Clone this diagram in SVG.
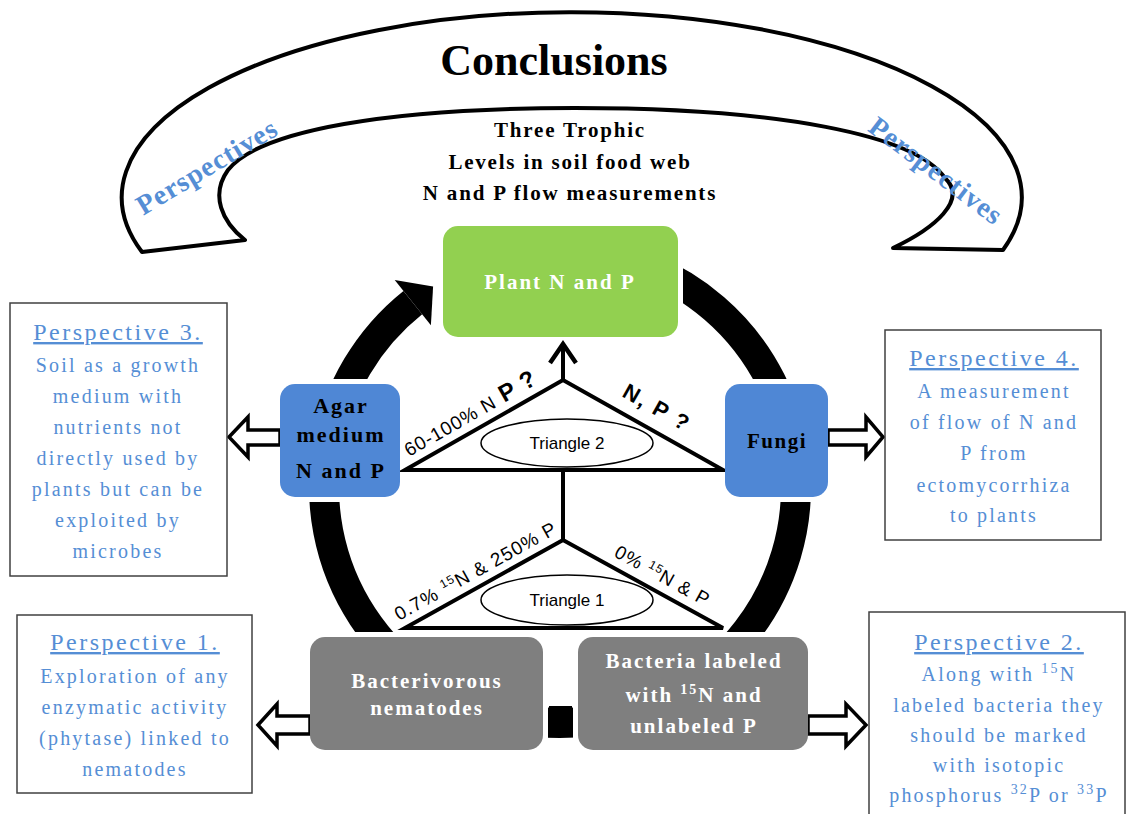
<svg xmlns="http://www.w3.org/2000/svg" width="1126" height="814" viewBox="0 0 1126 814">
<style>
.bt{font-family:'Liberation Serif','Times New Roman',serif;font-weight:bold;text-anchor:middle}
.pt{font-family:'Liberation Serif','Times New Roman',serif;font-size:24px;fill:#558ed5;text-anchor:middle;text-decoration:underline;letter-spacing:2.5px}
.pb{font-family:'Liberation Serif','Times New Roman',serif;font-size:20px;fill:#558ed5;text-anchor:middle;letter-spacing:2.2px}
.pbox{fill:#fff;stroke:#404040;stroke-width:1.5}
.hollow{fill:#fff;stroke:#000;stroke-width:3.5;stroke-linejoin:miter}
.ring{fill:none;stroke:#000;stroke-width:30}
.tri{fill:none;stroke:#000;stroke-width:4;stroke-linejoin:miter}
.ell{fill:#fff;stroke:#000;stroke-width:1.5}
.lbl{font-family:'Liberation Sans',Arial,sans-serif;fill:#000}
.blue{fill:#4f87d5}
.gray{fill:#7f7f7f}
</style>
<defs>
<mask id="gaps" maskUnits="userSpaceOnUse" x="0" y="0" width="1126" height="814">
<rect x="0" y="0" width="1126" height="814" fill="#fff"/>
<rect x="438" y="221" width="245" height="121" fill="#000"/>
<rect x="275" y="379" width="130" height="123" fill="#000"/>
<rect x="720" y="379" width="113" height="123" fill="#000"/>
<rect x="305" y="632" width="243" height="123" fill="#000"/>
<rect x="573" y="632" width="240" height="123" fill="#000"/>
</mask>
</defs>
<rect width="1126" height="814" fill="#fff"/>

<g id="arch">
<path d="M142,252 A450,185 0 1 1 1003,250 L893,248 C935,228 968,200 945,178 C915,135 780,108 575,108 C390,108 260,130 228,170 C210,195 222,222 245,240 Z" fill="#fff" stroke="#000" stroke-width="4" stroke-linejoin="round"/>
<text class="bt" x="554" y="75" font-size="44">Conclusions</text>
<text class="bt" transform="translate(207,167) rotate(-31)" y="9" font-size="28" fill="#558ed5" letter-spacing="1">Perspectives</text>
<text class="bt" transform="translate(936,171) rotate(37)" y="9" font-size="28" fill="#558ed5" letter-spacing="1">Perspectives</text>
<text class="bt" x="570" y="137" font-size="21" letter-spacing="1.8">Three Trophic</text>
<text class="bt" x="570" y="169" font-size="21" letter-spacing="1.8">Levels in soil food web</text>
<text class="bt" x="570" y="200" font-size="21" letter-spacing="1.8">N and P flow measurements</text>
</g>

<g id="connectors">
<g mask="url(#gaps)">
<path class="ring" d="M327.6,446 A236,236 0 0 1 412.8,302.6"/>
<path class="ring" d="M640.7,265.2 A236,236 0 1 1 327.6,446"/>
</g>
<polygon points="394.7,279.9 433.1,286.4 430.9,325.3" fill="#000"/>
<polygon class="tri" points="405,470 563,380 723,470"/>
<polygon class="tri" points="405,628 563,540 723,628"/>
<line x1="563" y1="380" x2="563" y2="345" stroke="#000" stroke-width="4"/>
<polyline points="550,363 563,344 576,363" fill="none" stroke="#000" stroke-width="4.5"/>
<line x1="563" y1="470" x2="563" y2="540" stroke="#000" stroke-width="4"/>
<polygon class="hollow" points="229,437 248,417 248,430 280,430 280,445 248,445 248,457"/>
<polygon class="hollow" points="828,430 866,430 866,417 883,437 866,457 866,445 828,445"/>
<polygon class="hollow" points="258,725 277,704 277,716 310,716 310,734 277,734 277,746"/>
<polygon class="hollow" points="808,716 846,716 846,704 866,725 846,746 846,734 808,734"/>
<rect x="549" y="706" width="23" height="31" fill="#000"/>
<text class="lbl" transform="translate(409,457) rotate(-29.7)" font-size="19" letter-spacing="0.8">60-100% N<tspan font-size="24" font-weight="bold"> P ?</tspan></text>
<text class="lbl" transform="translate(621,396) rotate(29.4)" font-size="22" font-weight="bold" letter-spacing="2">N, P ?</text>
<text class="lbl" transform="translate(399,621) rotate(-29.1)" font-size="19" letter-spacing="1">0.7% <tspan dy="-7" font-size="12">15</tspan><tspan dy="7">N &amp; 250% P</tspan></text>
<text class="lbl" transform="translate(613,556) rotate(28.8)" font-size="19" letter-spacing="1">0% <tspan dy="-7" font-size="12">15</tspan><tspan dy="7">N &amp; P</tspan></text>
</g>

<g id="triangle2">
<ellipse class="ell" cx="567" cy="443" rx="86" ry="24"/>
<text class="lbl" x="567" y="449" font-size="17" text-anchor="middle">Triangle 2</text>
</g>
<g id="triangle1">
<ellipse class="ell" cx="567" cy="600" rx="86" ry="25"/>
<text class="lbl" x="567" y="606" font-size="17" text-anchor="middle">Triangle 1</text>
</g>

<g id="plant">
<rect x="443" y="226" width="235" height="111" rx="15" fill="#92d050"/>
<text class="bt" x="560" y="289" font-size="21" fill="#fff" letter-spacing="2">Plant N and P</text>
</g>
<g id="agar">
<rect class="blue" x="280" y="384" width="120" height="113" rx="15"/>
<text class="bt" x="341" y="413" font-size="22" letter-spacing="2">Agar</text>
<text class="bt" x="341" y="442" font-size="22" letter-spacing="2">medium</text>
<text class="bt" x="341" y="478" font-size="22" letter-spacing="2">N and P</text>
</g>
<g id="fungi">
<rect class="blue" x="725" y="384" width="103" height="113" rx="15"/>
<text class="bt" x="777" y="448" font-size="21" letter-spacing="1.5">Fungi</text>
</g>
<g id="nematodes">
<rect class="gray" x="310" y="637" width="233" height="113" rx="15"/>
<text class="bt" x="427" y="688" font-size="21" fill="#fff" letter-spacing="2">Bacterivorous</text>
<text class="bt" x="427" y="715" font-size="21" fill="#fff" letter-spacing="2">nematodes</text>
</g>
<g id="bacteria">
<rect class="gray" x="578" y="637" width="230" height="113" rx="15"/>
<text class="bt" x="694" y="668" font-size="21" fill="#fff" letter-spacing="2">Bacteria  labeled</text>
<text class="bt" x="694" y="702" font-size="21" fill="#fff" letter-spacing="2">with <tspan dy="-8" font-size="14">15</tspan><tspan dy="8">N and</tspan></text>
<text class="bt" x="694" y="733" font-size="21" fill="#fff" letter-spacing="2">unlabeled P</text>
</g>

<g id="perspective3">
<rect class="pbox" x="10" y="303" width="217" height="273"/>
<text class="pt" x="118" y="340">Perspective 3.</text>
<text class="pb" x="118" y="372">Soil as a growth</text>
<text class="pb" x="118" y="403">medium with</text>
<text class="pb" x="118" y="434">nutrients not</text>
<text class="pb" x="118" y="465">directly used by</text>
<text class="pb" x="118" y="496">plants but can be</text>
<text class="pb" x="118" y="527">exploited by</text>
<text class="pb" x="118" y="558">microbes</text>
</g>
<g id="perspective4">
<rect class="pbox" x="885" y="330" width="216" height="210"/>
<text class="pt" x="994" y="366">Perspective 4.</text>
<text class="pb" x="994" y="398">A measurement</text>
<text class="pb" x="994" y="429">of flow of N and</text>
<text class="pb" x="994" y="460">P from</text>
<text class="pb" x="994" y="492">ectomycorrhiza</text>
<text class="pb" x="994" y="522">to plants</text>
</g>
<g id="perspective1">
<rect class="pbox" x="17" y="615" width="235" height="178"/>
<text class="pt" x="135" y="650">Perspective 1.</text>
<text class="pb" x="135" y="683">Exploration of any</text>
<text class="pb" x="135" y="714">enzymatic activity</text>
<text class="pb" x="135" y="745">(phytase) linked to</text>
<text class="pb" x="135" y="776">nematodes</text>
</g>
<g id="perspective2">
<rect class="pbox" x="869" y="612" width="256" height="215"/>
<text class="pt" x="999" y="650">Perspective 2.</text>
<text class="pb" x="999" y="681">Along with <tspan dy="-8" font-size="14">15</tspan><tspan dy="8">N</tspan></text>
<text class="pb" x="999" y="712">labeled bacteria they</text>
<text class="pb" x="999" y="742">should be marked</text>
<text class="pb" x="999" y="772">with isotopic</text>
<text class="pb" x="999" y="802">phosphorus <tspan dy="-8" font-size="14">32</tspan><tspan dy="8">P or </tspan><tspan dy="-8" font-size="14">33</tspan><tspan dy="8">P</tspan></text>
</g>
</svg>
